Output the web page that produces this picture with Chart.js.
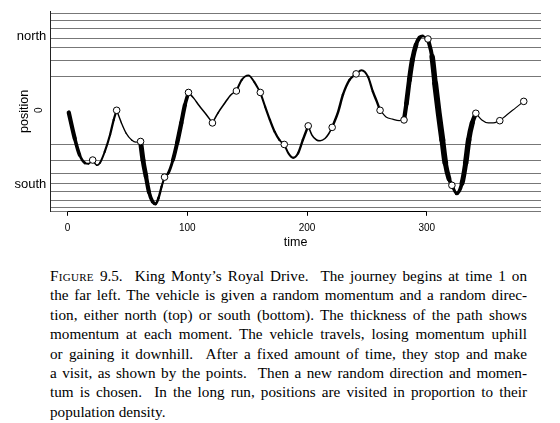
<!DOCTYPE html>
<html>
<head>
<meta charset="utf-8">
<script src="https://cdn.jsdelivr.net/npm/chart.js"></script>
<style>
  html, body { margin: 0; padding: 0; background: #fff; }
  body { width: 560px; height: 423px; position: relative; overflow: hidden; }
  #wrap { position: absolute; left: 0; top: 0; width: 560px; height: 260px; }
  #caption { position: absolute; left: 50px; top: 266px; width: 477px;
    font-family: 'Liberation Serif', serif; font-size: 15.2px; line-height: 19.4px; color: #000; }
  #caption div { text-align: justify; text-align-last: justify; white-space: nowrap; }
  #caption div.last { text-align-last: left; }
  .sc { font-variant: small-caps; letter-spacing: 0.3px; }
</style>
</head>
<body>
<div id="wrap"><canvas id="chart"></canvas></div>
<div id="caption">
  <div><span class="sc">Figure</span> 9.5. &nbsp;King Monty’s Royal Drive. &nbsp;The journey begins at time 1 on</div>
  <div>the far left. The vehicle is given a random momentum and a random direc-</div>
  <div>tion, either north (top) or south (bottom). The thickness of the path shows</div>
  <div>momentum at each moment. The vehicle travels, losing momentum uphill</div>
  <div>or gaining it downhill. &nbsp;After a fixed amount of time, they stop and make</div>
  <div>a visit, as shown by the points. &nbsp;Then a new random direction and momen-</div>
  <div>tum is chosen. &nbsp;In the long run, positions are visited in proportion to their</div>
  <div class="last">population density.</div>
</div>
<script>
// axis ticks and labels
const xTicks = [0, 100, 200, 300];
const yLabelValues = [1, 0, -1];
const yLabels = ['north', '0', 'south'];
const yLabelUpright = [true, false, true];

// horizontal reference lines (positions)
const gridLevels = [1.30, 1.21, 1.10, 0.97, 0.84, 0.67, 0.45,
  -0.46, -0.68, -0.85, -0.99, -1.10, -1.22, -1.31, -1.36];

// stops (visits)
const stopTimes = [21, 41, 61, 81, 101, 121, 141, 161, 181, 201, 221, 241, 261, 281, 301, 321, 341, 361, 381];
const stopPos = [-0.67, 0.00, -0.42, -0.90, 0.24, -0.17, 0.26, 0.24, -0.46, -0.21, -0.23, 0.49, 0.00, -0.13, 0.96, -1.01, -0.04, -0.14, 0.12];

// path; a repeated time starts a new move
const pathTime = [
  1, 6, 10, 14.5, 17.5, 21,
  21, 24.5, 27, 31, 35.5, 38.5, 41,
  41, 45, 49, 53.5, 57, 61,
  61, 63, 65.5, 68, 71, 73.5, 76, 78.5, 81,
  81, 84, 88, 91.5, 95, 98, 101,
  101, 105.5, 110, 115, 121,
  121, 125.5, 131, 136.5, 141,
  141, 145.5, 151, 156, 161,
  161, 165, 169, 173, 177, 181,
  181, 184.5, 188.5, 192.5, 196.5, 201,
  201, 204, 208, 211, 215, 218, 221,
  221, 226, 230, 235.5, 241,
  241, 245.5, 251, 255, 258, 261,
  261, 266, 271.5, 277, 281,
  281, 283, 285.5, 288, 291, 294, 296.5, 301,
  301, 304.5, 307, 310, 313, 315.5, 318.5, 321,
  321, 325, 329.5, 332.5, 335, 338, 341,
  341, 346, 351.5, 355.5, 361,
  361, 367, 374, 381
];
const pathPos = [
  -0.03, -0.38, -0.60, -0.71, -0.72, -0.67,
  -0.67, -0.74, -0.71, -0.56, -0.33, -0.13, 0.00,
  0.00, -0.17, -0.31, -0.40, -0.43, -0.42,
  -0.42, -0.67, -0.89, -1.10, -1.23, -1.26, -1.18, -1.03, -0.90,
  -0.90, -0.85, -0.67, -0.44, -0.17, 0.07, 0.24,
  0.24, 0.16, 0.06, -0.04, -0.17,
  -0.17, -0.04, 0.09, 0.21, 0.26,
  0.26, 0.41, 0.47, 0.38, 0.24,
  0.24, 0.05, -0.13, -0.29, -0.40, -0.46,
  -0.46, -0.58, -0.64, -0.58, -0.40, -0.21,
  -0.21, -0.33, -0.40, -0.41, -0.38, -0.32, -0.23,
  -0.23, -0.02, 0.21, 0.41, 0.49,
  0.49, 0.54, 0.45, 0.25, 0.13, 0.00,
  0.00, -0.09, -0.12, -0.14, -0.13,
  -0.13, 0.09, 0.41, 0.68, 0.88, 0.98, 1.00, 0.96,
  0.96, 0.72, 0.36, -0.04, -0.40, -0.71, -0.92, -1.01,
  -1.01, -1.12, -0.98, -0.71, -0.40, -0.17, -0.04,
  -0.04, -0.13, -0.17, -0.17, -0.14,
  -0.14, -0.06, 0.03, 0.12
];
// momentum shown as line thickness
const pathWidth = [
  4.5, 4, 3.2, 2.2, 1.7, 1.6,
  1.6, 1.6, 1.8, 2.1, 2.3, 2.3, 2.1,
  1.4, 1.4, 1.3, 1.2, 1.2, 1.2,
  5, 5, 4.5, 4, 3.4, 2.8, 2.5, 2.3, 2,
  1.6, 2.2, 3.6, 4.3, 4.5, 4, 3.4,
  1.5, 1.5, 1.5, 1.5, 1.5,
  1.5, 1.5, 1.6, 1.6, 1.6,
  2, 2, 1.9, 2, 2,
  2, 2.1, 2.3, 2.3, 2.1, 2,
  2, 2, 2, 2.2, 2.4, 2.4,
  1.6, 1.6, 1.6, 1.6, 1.6, 1.6, 1.6,
  2.5, 2.5, 2.5, 2.3, 2,
  2, 2, 2, 2.4, 2.4, 2.4,
  1.2, 1.2, 1.2, 1.2, 1.2,
  4, 4.5, 5, 5, 4.5, 3.5, 2.3, 1.8,
  3, 5, 6, 6, 6, 5.5, 4.5, 3,
  3, 3, 4.5, 5.5, 5.5, 5, 4,
  1.2, 1.2, 1.2, 1.2, 1.2,
  1.1, 1.1, 1.1, 1.1
];

Chart.defaults.font.family = "'Liberation Sans', Arial, sans-serif";
Chart.defaults.color = '#000';

const moves = [];
pathTime.forEach((t, i) => {
  if (i === 0 || t === pathTime[i - 1]) moves.push([]);
  moves[moves.length - 1].push(i);
});

const pathSets = moves.map(idx => {
  const w = idx.map(i => pathWidth[i]);
  return {
    type: 'line',
    order: 1,
    data: idx.map(i => ({ x: pathTime[i], y: pathPos[i] })),
    borderColor: '#000',
    borderWidth: 2,
    pointRadius: 0,
    cubicInterpolationMode: 'monotone',
    borderCapStyle: 'round',
    borderJoinStyle: 'round',
    segment: {
      borderWidth: c => (w[c.p0DataIndex] + w[c.p1DataIndex]) / 2,
      borderCapStyle: 'round'
    }
  };
});

const stopSet = {
  type: 'scatter',
  order: 0,
  data: stopTimes.map((t, i) => ({ x: t, y: stopPos[i] })),
  pointRadius: 3.3,
  pointBorderWidth: 1,
  pointBackgroundColor: '#fff',
  pointBorderColor: '#000',
  showLine: false
};

// R style: bottom axis line only between first and last tick, y labels by hand
const rAxes = {
  id: 'rAxes',
  afterDraw(chart) {
    const { ctx, scales: { x, y } } = chart;
    ctx.save();
    const yb = Math.round(y.bottom - 0.5) + 0.5;
    ctx.strokeStyle = '#000';
    ctx.lineWidth = 1;
    ctx.beginPath();
    ctx.moveTo(x.getPixelForValue(xTicks[0]), yb);
    ctx.lineTo(x.getPixelForValue(xTicks[xTicks.length - 1]), yb);
    ctx.stroke();

    ctx.fillStyle = '#000';
    ctx.textBaseline = 'middle';
    yLabels.forEach((lab, i) => {
      const py = y.getPixelForValue(yLabelValues[i]);
      if (yLabelUpright[i]) {
        ctx.font = "13px 'Liberation Sans'";
        ctx.textAlign = 'right';
        ctx.fillText(lab, y.right - 4.5, py);
      } else {
        ctx.save();
        ctx.translate(y.right - 12, py);
        ctx.rotate(-Math.PI / 2);
        ctx.font = "10px 'Liberation Sans'";
        ctx.textAlign = 'center';
        ctx.fillText(lab, 0, 0);
        ctx.restore();
      }
    });
    ctx.restore();
  }
};

new Chart(document.getElementById('chart'), {
  data: { datasets: [stopSet, ...pathSets] },
  options: {
    responsive: true,
    maintainAspectRatio: false,
    animation: false,
    layout: { padding: { top: 11.5, right: 19.5, bottom: 0, left: 0 } },
    plugins: { legend: { display: false }, tooltip: { enabled: false } },
    scales: {
      x: {
        type: 'linear', min: -14, max: 395,
        afterBuildTicks: s => { s.ticks = xTicks.map(v => ({ value: v })); },
        afterFit: s => { s.height = 48.7; },
        grid: { drawOnChartArea: false, drawTicks: true, tickLength: 4.5, color: '#000', lineWidth: 1 },
        border: { display: false },
        ticks: { color: '#000', font: { size: 10 }, padding: 6, maxRotation: 0, autoSkip: false },
        title: { display: true, text: 'time', color: '#000', font: { size: 12.5 }, padding: { top: 0, bottom: 10.2 } }
      },
      y: {
        type: 'linear', min: -1.36, max: 1.33, position: 'left',
        afterBuildTicks: s => { s.ticks = yLabelValues.map(v => ({ value: v })); },
        afterFit: s => { s.width = 50.8; },
        grid: { drawOnChartArea: false, drawTicks: false },
        border: { display: true, color: '#222', width: 1 },
        ticks: { display: false },
        title: { display: true, text: 'position', color: '#000', font: { size: 12.5 }, padding: { top: 17.5, bottom: 0 } }
      },
      yl: {
        type: 'linear', min: -1.36, max: 1.33, position: 'right',
        afterBuildTicks: s => { s.ticks = gridLevels.map(v => ({ value: v })); },
        afterFit: s => { s.width = 0; },
        grid: { color: '#777', lineWidth: 1, drawTicks: false },
        border: { display: false },
        ticks: { display: false }
      }
    }
  },
  plugins: [rAxes]
});
</script>
</body>
</html>
